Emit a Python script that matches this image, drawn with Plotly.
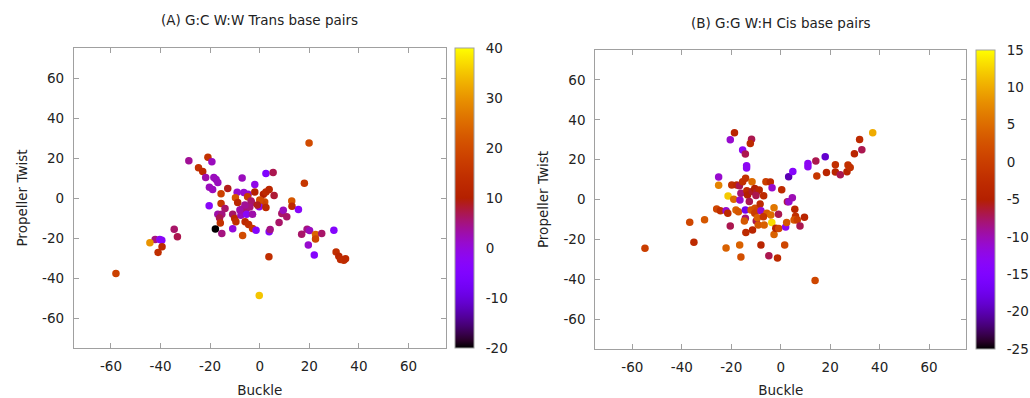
import math
import plotly.graph_objects as go
from plotly.subplots import make_subplots

# ---------------- data ----------------
# Panel A: G:C W:W Trans base pairs
a_buckle = [-28.6, -20.9, -19.3, -24.7, -23.0, -21.8, -18.5, -17.6, -16.9, -20.3,
            -19.0, -12.9, -15.6, -20.4, -15.6, -14.0, -16.9, -15.3, -16.2, -15.9,
            -17.9, -15.3, -10.9, -10.1, -9.6, -10.9, -6.9, -9.1, -9.8, -8.9,
            -7.1, -6.4, -4.7, -4.9, -3.5, -7.3, -5.6, -7.6, -5.3, -5.9,
            -4.5, -2.9, -2.9, -3.3, -2.0, -2.0, -1.5, 0.5, 2.0, 1.3,
            -0.2, 2.5, 1.5, 2.5, 3.8, 2.5, 5.4, 5.8, 3.8, 4.2,
            3.7, 8.9, 9.5, 10.9, 7.8, 12.9, 13.0, 15.6, 19.9, 18.0,
            16.9, 19.1, 20.1, 22.5, 22.5, 19.6, 22.0, 25.0, 29.9, 30.8,
            31.9, 32.6, 33.9, 34.6, -42.2, -40.3, -39.5, -44.3, -39.4, -41.0,
            -34.5, -33.2, -58.0, -0.2, 0.0, -4.0, -8.0, -6.0, -1.0]
a_twist = [18.6, 20.4, 18.1, 15.1, 13.2, 10.2, 10.2, 9.2, 7.8, 5.4,
           4.3, 4.8, 2.1, -3.9, -2.8, -5.2, -8.1, -8.1, -10.0, -12.5,
           -15.5, -17.7, -8.1, -10.2, -11.9, -15.4, -18.8, 2.9, 0.1, -2.2,
           10.0, 2.7, 1.9, 0.6, -1.5, -5.6, -6.1, -8.6, -8.1, -11.9,
           -13.2, -15.2, -8.1, -2.4, 6.7, 3.0, -16.1, -1.5, -2.0, -3.0,
           -4.4, -4.8, 1.9, 3.0, 4.2, 12.2, 12.7, 1.2, -16.9, -15.7,
           -29.4, -7.7, -6.1, -9.4, -12.2, -1.5, -4.1, -5.7, 27.5, 7.4,
           -18.1, -15.6, -16.3, -18.2, -20.5, -23.5, -28.5, -17.7, -16.1, -27.0,
           -29.1, -30.7, -31.1, -30.4, -20.7, -20.7, -21.1, -22.4, -24.4, -27.2,
           -15.6, -19.4, -37.7, -48.8, -1.0, -4.5, -6.0, -3.5, -3.5]
a_color = [4, 15, 2, 15, 13, 3, 2, 2, 2, 2,
           2, 9, 18, -3, 16, 6, 3, 5, 7, 15,
           -20, 5, 6, 12, 14, 0, 20, 1, 22, 12,
           2, 1, 1, 17, 6, 2, 6, 2, -3, 13,
           14, 16, 3, 6, -1, 10, -4, 19, 20, 18,
           -1, 13, 10, 13, 12, -5, 7, 8, -3, 5,
           14, 6, 2, 6, 6, 22, 13, -3, 20, 16,
           6, 5, 2, 24, 19, 1, -4, 6, -4, 14,
           12, 13, 14, 13, 5, -2, -3, 30, 13, 14,
           6, 7, 18, 35, 20, 5, 3, 4, 9]

# Panel B: G:G W:H Cis base pairs
b_buckle = [-54.9, -36.8, -35.1, -30.8, -25.1, -25.1, -25.9, -24.4, -22.1, -21.4,
            -20.4, -22.1, -21.3, -19.8, -17.8, -16.7, -19.0, -16.5, -18.1, -17.1,
            -18.7, -20.4, -16.6, -16.1, -11.8, -12.3, -15.4, -14.3, -13.8, -13.8,
            -15.4, -14.2, -11.6, -16.1, -13.7, -13.4, -12.7, -11.5, -10.5, -9.8,
            -8.7, -10.0, -14.3, -12.0, -10.4, -9.4, -10.5, -14.3, -14.7, -9.9,
            -9.4, -14.1, -11.4, -9.1, -6.7, -8.0, -8.3, -8.0, -6.9, -6.0,
            -4.2, -3.5, -5.6, -4.0, -7.0, -3.6, -2.7, -2.7, -4.8, -1.3,
            -2.0, -0.8, -0.9, 0.4, 1.6, 2.0, 2.4, 2.7, 3.3, 4.7,
            3.2, 4.9, 5.7, 6.0, 5.4, 6.7, 7.8, 9.6, 11.0, 11.0,
            14.2, 14.6, 18.0, 18.5, 22.1, 22.1, 24.1, 26.8, 27.2, 28.1,
            29.8, 31.9, 32.8, 37.2, 13.9]
b_twist = [-24.4, -11.4, -21.5, -10.1, 11.3, 7.2, -4.8, -5.6, -5.6, -6.9,
           -13.3, -24.3, 1.8, 7.3, 7.3, 6.9, 0.1, -0.3, -5.3, -6.1,
           33.5, 30.0, -22.8, -28.8, 30.2, 28.1, 24.8, 22.8, 16.9, 15.8,
           8.9, 10.6, 8.9, 3.1, 4.4, 2.3, -1.0, 4.0, 5.5, 3.6,
           4.8, 2.0, -5.3, -5.3, -4.4, -5.3, -6.9, -9.4, -10.8, -10.8,
           -9.1, -16.5, -15.3, -12.8, -12.8, -22.8, -2.3, -5.6, 1.9, 8.9,
           8.8, 5.9, -6.9, -7.8, -8.6, -11.5, -4.1, -17.6, -28.2, -29.3,
           -14.4, -14.6, -7.4, 4.9, -22.8, -13.8, -11.6, -1.1, -1.1, 0.9,
           11.4, 14.1, -4.9, -8.4, -10.3, -10.3, -13.3, -8.9, 18.1, 16.4,
           19.3, 11.8, 21.5, 13.6, 17.4, 13.8, 12.4, 13.9, 17.3, 16.0,
           22.9, 30.1, 25.0, 33.5, -40.6]
b_color = [0, 1, -3, 3, -11, 7, 1, -2, -11, -3,
           -7, 4, 12, -2, -3, -7, 5, -11, 4, 3,
           -4, -11, 4, 2, -7, -3, -13, -7, -13, -13,
           -2, -2, 5, -8, -3, -5, -7, -6, -5, -6,
           -4, -7, -17, 3, 2, 1, 0, -8, 3, -7,
           4, -3, -4, 3, 4, -4, -3, -11, -3, 0,
           -3, -11, 4, 5, -1, 13, 6, 4, -7, -3,
           -4, 1, -7, -3, 1, -13, 3, -7, -11, -10,
           -20, -14, -4, -2, 3, 0, -7, -4, -13, -13,
           -7, -1, -19, -4, -2, -4, -7, -4, -2, -2,
           -4, -3, -7, 10, 1]

titles = ["(A) G:C W:W Trans base pairs", "(B) G:G W:H Cis base pairs"]
axis_ticks = [-60, -40, -20, 0, 20, 40, 60]
a_cbar_ticks = [-20, -10, 0, 10, 20, 30, 40]
b_cbar_ticks = [-25, -20, -15, -10, -5, 0, 5, 10, 15]

# ---------------- style ----------------
W, H = 1030, 398
FONT = "DejaVu Sans"
FS = 13.5
TXT = "#222222"
FRAME = "#a0a0a0"


def labels(vals):
    # plain hyphen-minus, as in the original
    return [str(v) for v in vals]


def gnuplot_palette(n=41):
    stops = []
    for i in range(n):
        t = i / (n - 1)
        r = math.sqrt(t)
        g = t ** 3
        b = max(0.0, math.sin(2 * math.pi * t))
        stops.append([t, "rgb(%d,%d,%d)" % (round(r * 255), round(g * 255), round(b * 255))])
    return stops


cscale = gnuplot_palette()

# pixel layout
A_x0, A_x1, A_y0, A_y1 = 74, 447, 48, 348
B_x0, B_x1, B_y0, B_y1 = 597, 969, 50, 349


def dom_x(a, b):
    return [a / W, b / W]


def dom_y(top, bot):
    return [(H - bot) / H, (H - top) / H]


fig = make_subplots(rows=1, cols=2)

panels = [
    (a_buckle, a_twist, a_color, -20, 40, a_cbar_ticks, A_x0, A_x1, A_y0, A_y1, 456),
    (b_buckle, b_twist, b_color, -25, 15, b_cbar_ticks, B_x0, B_x1, B_y0, B_y1, 979),
]

for i, (xs, ys, cs, cmin, cmax, cticks, x0, x1, y0, y1, cbx) in enumerate(panels):
    fig.add_trace(
        go.Scatter(
            x=xs, y=ys, mode="markers",
            marker=dict(
                size=7.5, color=cs, colorscale=cscale, cmin=cmin, cmax=cmax,
                line=dict(width=0),
                colorbar=dict(
                    x=cbx / W, xanchor="left", xpad=0, ypad=0,
                    y=1 - ((y0 + y1) / 2) / H, yanchor="middle",
                    lenmode="pixels", len=(y1 - y0), thickness=19,
                    outlinecolor=FRAME, outlinewidth=1,
                    tickvals=cticks, ticktext=labels(cticks),
                    ticks="outside", ticklen=9,
                    tickcolor="rgba(0,0,0,0)",
                    tickfont=dict(family=FONT, size=FS, color=TXT),
                ),
            ),
            showlegend=False,
        ),
        row=1, col=i + 1,
    )
    ax_common = dict(
        range=[-75, 75], tickvals=axis_ticks, ticktext=labels(axis_ticks),
        showgrid=False, zeroline=False,
        showline=True, linecolor=FRAME, linewidth=1, mirror="allticks",
        ticks="inside", ticklen=5, tickcolor=FRAME,
        tickfont=dict(family=FONT, size=FS, color=TXT),
    )
    fig.update_xaxes(
        domain=dom_x(x0, x1), ticklabelstandoff=6,
        title=dict(text="Buckle", font=dict(family=FONT, size=FS, color=TXT), standoff=12),
        row=1, col=i + 1, **ax_common,
    )
    fig.update_yaxes(
        domain=dom_y(y0, y1), ticklabelstandoff=6,
        title=dict(text="Propeller Twist", font=dict(family=FONT, size=FS, color=TXT), standoff=11),
        row=1, col=i + 1, **ax_common,
    )

fig.add_annotation(text=titles[0], x=260 / W, y=1 - 20 / H, xref="paper", yref="paper",
                   xanchor="center", yanchor="middle", showarrow=False,
                   font=dict(family=FONT, size=FS, color=TXT))
fig.add_annotation(text=titles[1], x=783 / W, y=1 - 23 / H, xref="paper", yref="paper",
                   xanchor="center", yanchor="middle", showarrow=False,
                   font=dict(family=FONT, size=FS, color=TXT))

fig.update_layout(
    width=W, height=H, autosize=False,
    margin=dict(l=0, r=0, t=0, b=0),
    paper_bgcolor="white", plot_bgcolor="white",
    font=dict(family=FONT, size=FS, color=TXT),
)

fig.write_html("out.html")
